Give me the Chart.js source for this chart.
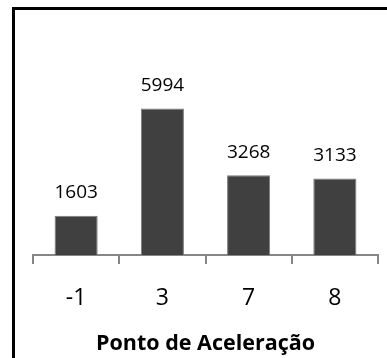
<!DOCTYPE html>
<html>
<head>
<meta charset="utf-8">
<script src="https://cdn.jsdelivr.net/npm/chart.js@4.4.1/dist/chart.umd.min.js"></script>
<style>
  html, body { margin: 0; padding: 0; background: #fff; overflow: hidden; }
  #wrap { position: relative; width: 387px; height: 358px; overflow: hidden; }
  #frame {
    position: absolute; left: 12px; top: 7px; width: 420px; height: 420px;
    border: 3px solid #000; box-sizing: border-box;
  }
  #chart { position: absolute; left: 0; top: 0; }
</style>
</head>
<body>
<div id="wrap">
  <div id="frame"></div>
  <canvas id="chart" width="387" height="358"></canvas>
</div>
<script>
// accel point categories and counts
const categories = ['-1', '3', '7', '8'];
const counts = [1603, 5994, 3268, 3133];
const axisTitle = 'Ponto de Aceleração';
const yMax = 7000;

const FONT = 'Open Sans';

// writes the value above each bar
const barValues = {
  id: 'barValues',
  afterDatasetsDraw(chart) {
    const ctx = chart.ctx;
    const meta = chart.getDatasetMeta(0);
    ctx.save();
    ctx.fillStyle = '#000';
    ctx.font = '19px "' + FONT + '"';
    ctx.textAlign = 'center';
    ctx.textBaseline = 'middle';
    meta.data.forEach((bar, i) => {
      ctx.fillText(String(counts[i]), bar.x, bar.y - 23);
    });
    ctx.restore();
  }
};

document.addEventListener('DOMContentLoaded', () => {
  const ctx = document.getElementById('chart').getContext('2d');
  new Chart(ctx, {
    type: 'bar',
    data: {
      labels: categories,
      datasets: [{
        data: counts,
        backgroundColor: '#404040',
        borderColor: '#7a7a7a',
        borderWidth: 1,
        barPercentage: 0.5,
        categoryPercentage: 1
      }]
    },
    options: {
      responsive: false,
      animation: false,
      layout: { padding: { left: 33, right: 9, top: 84, bottom: 1.6 } },
      plugins: { legend: { display: false }, tooltip: { enabled: false } },
      scales: {
        x: {
          grid: {
            display: true,
            drawOnChartArea: false,
            drawTicks: true,
            tickLength: 9,
            offset: true,
            color: '#868686',
            lineWidth: 2
          },
          border: { display: true, color: '#868686', width: 2 },
          ticks: {
            color: '#000',
            padding: 21,
            font: { family: FONT, size: 23 }
          },
          title: {
            display: true,
            text: axisTitle,
            color: '#000',
            font: { family: FONT, size: 21.5, weight: 'bold' },
            // tick padding is counted twice in the axis height, pull title back up
            padding: { top: -3, bottom: 0 }
          }
        },
        y: {
          display: false,
          min: 0,
          max: yMax
        }
      }
    },
    plugins: [barValues]
  });
});
</script>
</body>
</html>
